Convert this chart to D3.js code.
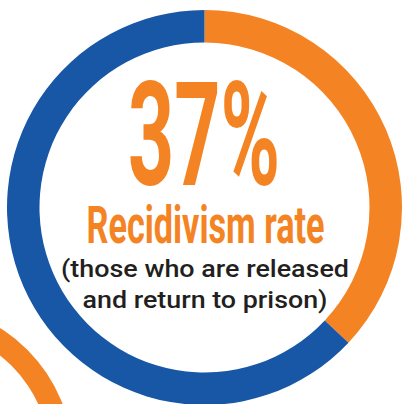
<!DOCTYPE html>
<html>
<head>
<meta charset="utf-8">
<script src="https://cdn.jsdelivr.net/npm/d3@7"></script>
<style>
  html, body { margin: 0; padding: 0; background: #ffffff; }
  svg { display: block; }
</style>
</head>
<body>
<script>
// ---- data ----
const categories = ["Return to prison", "Do not return"];
const values = [37, 63];
const colors = ["#f48423", "#1757a5"];
const headline = "37%";
const subtitle = "Recidivism rate";
const noteLines = ["(those who are released", "and return to prison)"];
// neighbouring (cropped) ring from the infographic
const neighbourValues = [100];
const neighbourColors = ["#f48423"];

const W = 403, H = 404;
const svg = d3.select("body").append("svg").attr("width", W).attr("height", H);

const pie = d3.pie().sort(null).value(d => d);

// neighbouring ring, bottom-left
const gN = svg.append("g").attr("transform", "translate(-83,460)");
const arcN = d3.arc().innerRadius(133.5).outerRadius(156);
gN.selectAll("path").data(pie(neighbourValues)).join("path")
  .attr("d", arcN).attr("fill", (d, i) => neighbourColors[i]);

// main donut
const g = svg.append("g").attr("transform", "translate(204.5,207.5)");
const arc = d3.arc().innerRadius(165).outerRadius(197.5);
g.selectAll("path").data(pie(values)).join("path")
  .attr("d", arc).attr("fill", (d, i) => colors[i]);

// texts
const font = "Roboto, 'Noto Sans', sans-serif";
svg.append("text")
  .attr("x", 204).attr("y", 185)
  .attr("text-anchor", "middle")
  .attr("font-family", font).attr("font-weight", 700)
  .attr("font-size", 145)
  .attr("textLength", 152).attr("lengthAdjust", "spacingAndGlyphs")
  .attr("fill", colors[0])
  .text(headline);

svg.append("text")
  .attr("x", 205.5).attr("y", 243)
  .attr("text-anchor", "middle")
  .attr("font-family", font).attr("font-weight", 700)
  .attr("font-size", 51)
  .attr("textLength", 238).attr("lengthAdjust", "spacingAndGlyphs")
  .attr("fill", colors[0])
  .text(subtitle);

const noteY = [277, 308];
const noteLen = [288, 245];
noteLines.forEach((t, i) => {
  svg.append("text")
    .attr("x", 205).attr("y", noteY[i])
    .attr("text-anchor", "middle")
    .attr("font-family", font).attr("font-weight", 500)
    .attr("font-size", 23)
    .attr("textLength", noteLen[i]).attr("lengthAdjust", "spacingAndGlyphs")
    .attr("fill", "#231f20")
    .text(t);
});
</script>
</body>
</html>
